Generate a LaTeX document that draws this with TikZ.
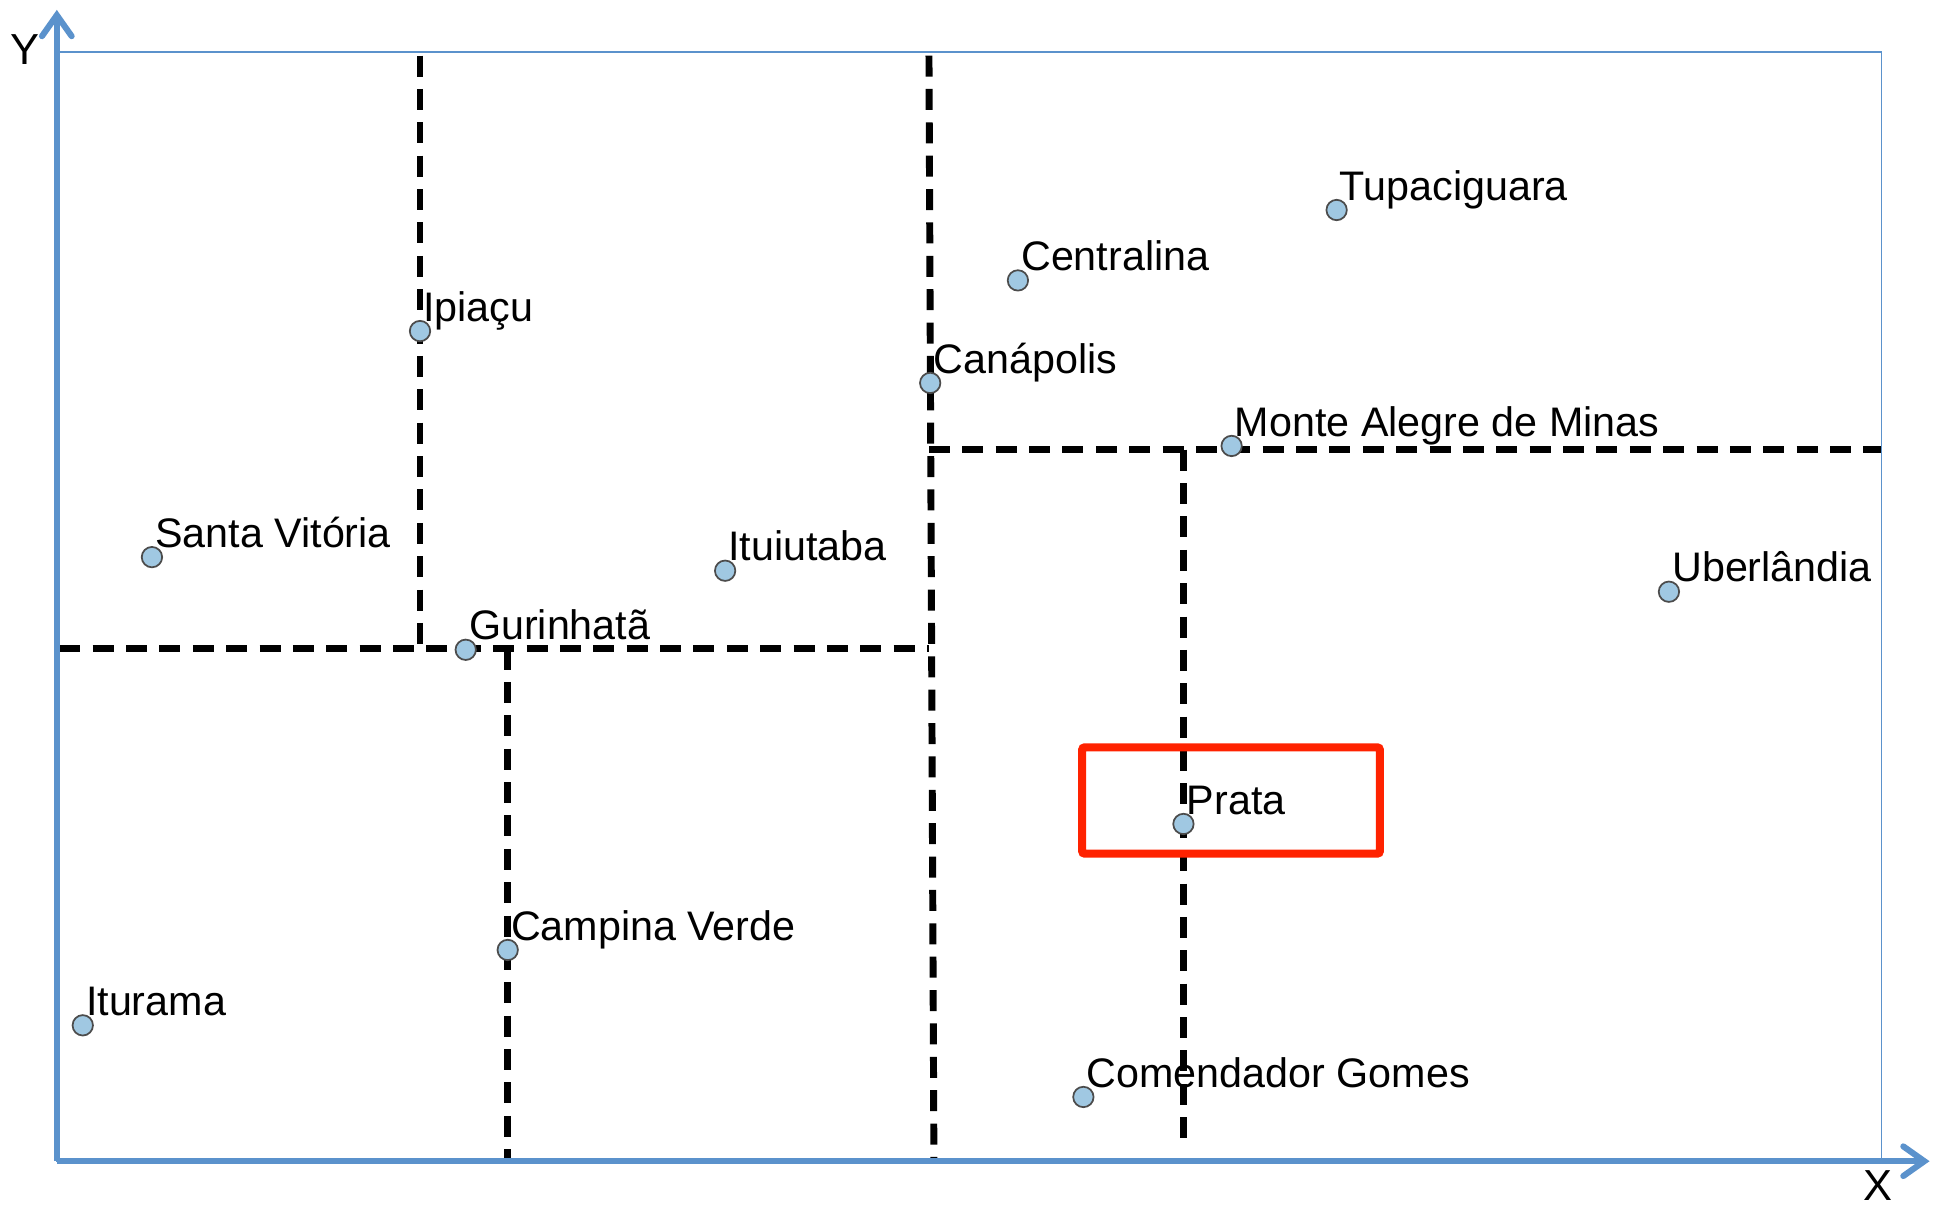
\documentclass[tikz,border=0pt]{standalone}
\usepackage{fontspec}
\setmainfont{Liberation Sans}
\usetikzlibrary{arrows.meta}
\definecolor{axisblue}{RGB}{91,146,204}
\definecolor{dotblue}{RGB}{160,200,226}
\definecolor{boxred}{RGB}{255,34,0}
\tikzset{
    axis/.style={draw=axisblue, line width=1.4pt, -{Straight Barb[length=1.7mm, width=2.4mm, line cap=round]}},
    split/.style={draw=black, line width=1.6pt, dash pattern=on 0.17cm off 0.10cm},
    city/.style={circle, draw=black!70, fill=dotblue, line width=0.4pt, minimum size=0.165cm, inner sep=0pt},
    cityname/.style={anchor=base west, inner sep=0pt, font=\fontsize{9.5}{11}\selectfont}
}
\begin{document}
\begin{tikzpicture}[x=0.01cm, y=-0.01cm]
        \useasboundingbox (0,0) rectangle (1568,976);
        \coordinate (origin) at (46,940);
        \coordinate (ytip) at (46,8);
        \coordinate (xtip) at (1562,940);
        \draw[axisblue, line width=0.4pt] (46,42) rectangle (1523,940);
        \draw[split] (340,45) -- (340,525);
        \draw[split] (48,525) -- (752,525);
        \draw[split] (752,45) -- (756,938);
        \draw[split] (752,364) -- (1523,364);
        \draw[split] (958,364) -- (958,925);
        \draw[split] (411,525) -- (411,938);
        \draw[axis] (origin) -- (ytip);
        \draw[axis] (origin) -- (xtip);
        \node[font=\fontsize{10}{12}\selectfont] (ylab) at (20,40) {Y};
        \node[font=\fontsize{10}{12}\selectfont] (xlab) at (1520,960) {X};
        \draw[boxred, line width=1.8pt, rounded corners=0.5pt] (876,605) rectangle (1117,691);
        \foreach \x/\y/\n/\t in {1082/170/tupa/Tupaciguara, 824/227/cent/Centralina,
            340/268/ipia/Ipiaçu, 753/310/cana/Canápolis, 997/361/mont/Monte Alegre de Minas,
            123/451/sant/Santa Vitória, 587/462/itui/Ituiutaba, 1351/479/uber/Uberlândia,
            377/526/guri/Gurinhatã, 958/667/prat/Prata, 411/769/camp/Campina Verde,
            67/830/itur/Iturama, 877/888/come/Comendador Gomes} {
            \node[city] (\n) at (\x,\y) {};
            \node[cityname] (\n-name) at ([shift={(2,-8)}]\n.center) {\t};
        }
    \end{tikzpicture}
\end{document}
